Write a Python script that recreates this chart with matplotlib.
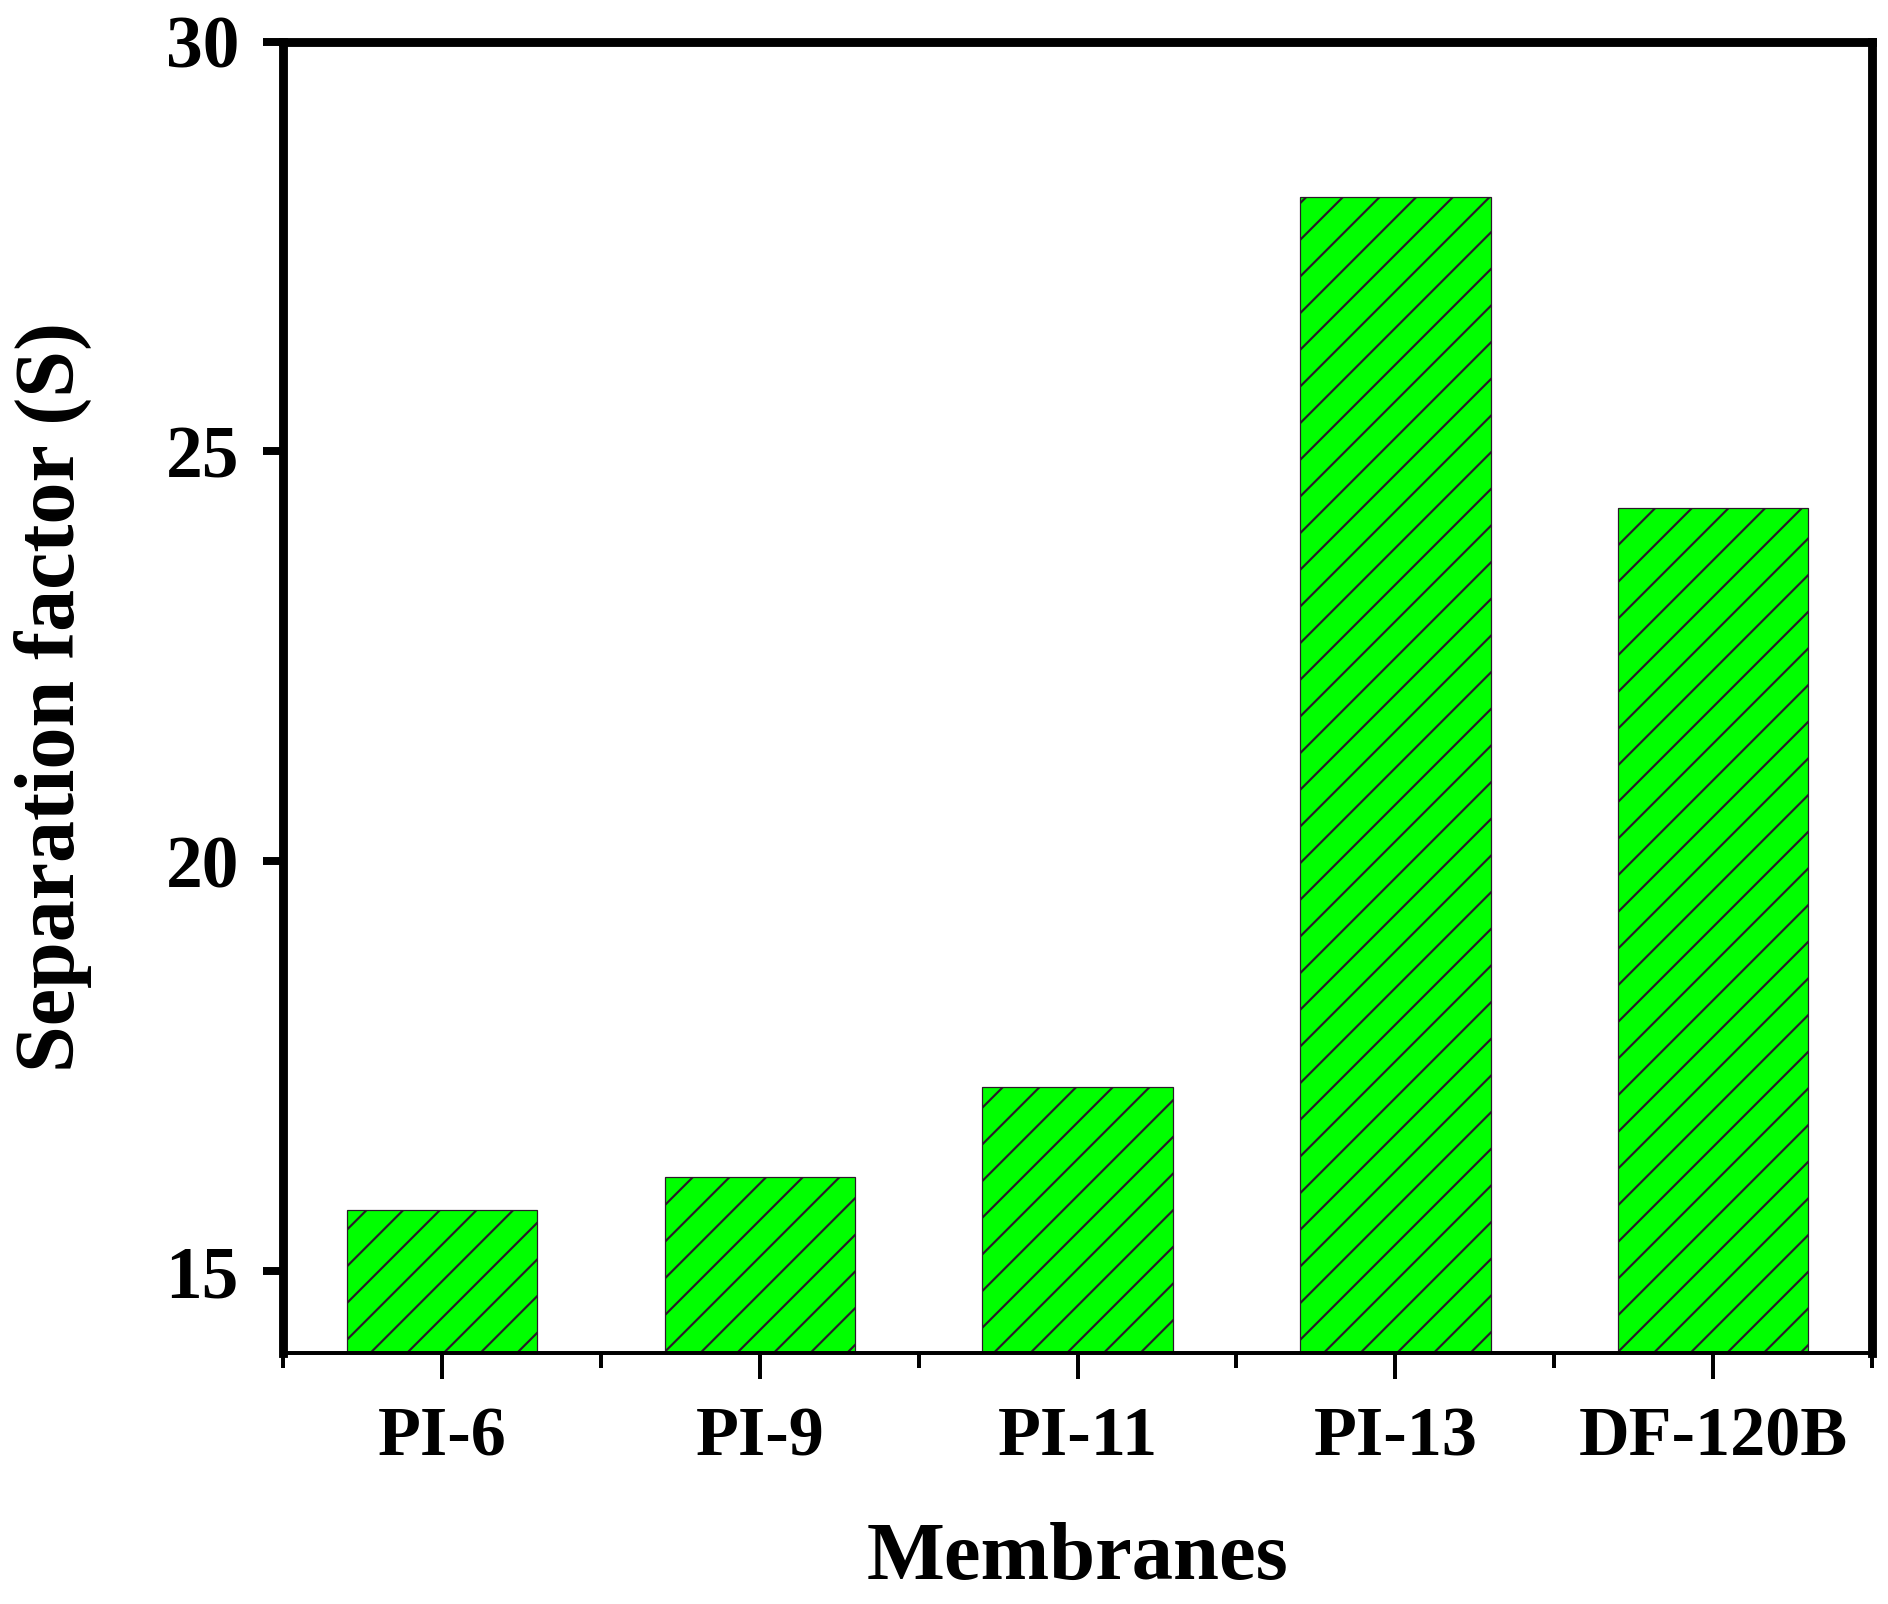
import matplotlib.pyplot as plt
import numpy as np

# dane
membranes = ["PI-6", "PI-9", "PI-11", "PI-13", "DF-120B"]
separation_factor = [15.75, 16.15, 17.24, 28.1, 24.31]

plt.rcParams['font.family'] = ['Liberation Serif', 'DejaVu Serif']
plt.rcParams['font.weight'] = 'bold'
plt.rcParams['hatch.linewidth'] = 0.7
plt.rcParams['hatch.color'] = 'black'

DPI = 220
fig = plt.figure(figsize=(1888 / DPI, 1604 / DPI), dpi=DPI)
ax = fig.add_axes([0.150, 0.1565, 0.8415, 0.8175])

x = np.arange(len(membranes))
bars = ax.bar(x, separation_factor, width=0.6, color='#00ff00', edgecolor='#2a1a2a',
              linewidth=0.4, hatch='//')

ax.set_xlim(-0.5, len(membranes) - 0.5)
ax.set_ylim(14, 30)
ax.set_yticks([15, 20, 25, 30])
ax.set_xticks(x)
ax.set_xticklabels(membranes)
ax.set_xticks(np.arange(-0.5, len(membranes), 1.0), minor=True)

for side in ['left', 'top', 'right']:
    ax.spines[side].set_linewidth(2.9)
ax.spines['bottom'].set_linewidth(1.3)

ax.tick_params(axis='y', which='major', direction='out', length=6.5, width=2.6,
               labelsize=24, pad=8)
ax.tick_params(axis='x', which='major', direction='out', length=8.5, width=1.3,
               labelsize=23, pad=9)
ax.tick_params(axis='x', which='minor', direction='out', length=5, width=1.3)

ax.set_xlabel("Membranes", fontsize=27, fontweight='bold', labelpad=17)
ax.set_ylabel("Separation factor (S)", fontsize=27.5, fontweight='bold', labelpad=24)

fig.savefig("out.png", dpi=DPI)
